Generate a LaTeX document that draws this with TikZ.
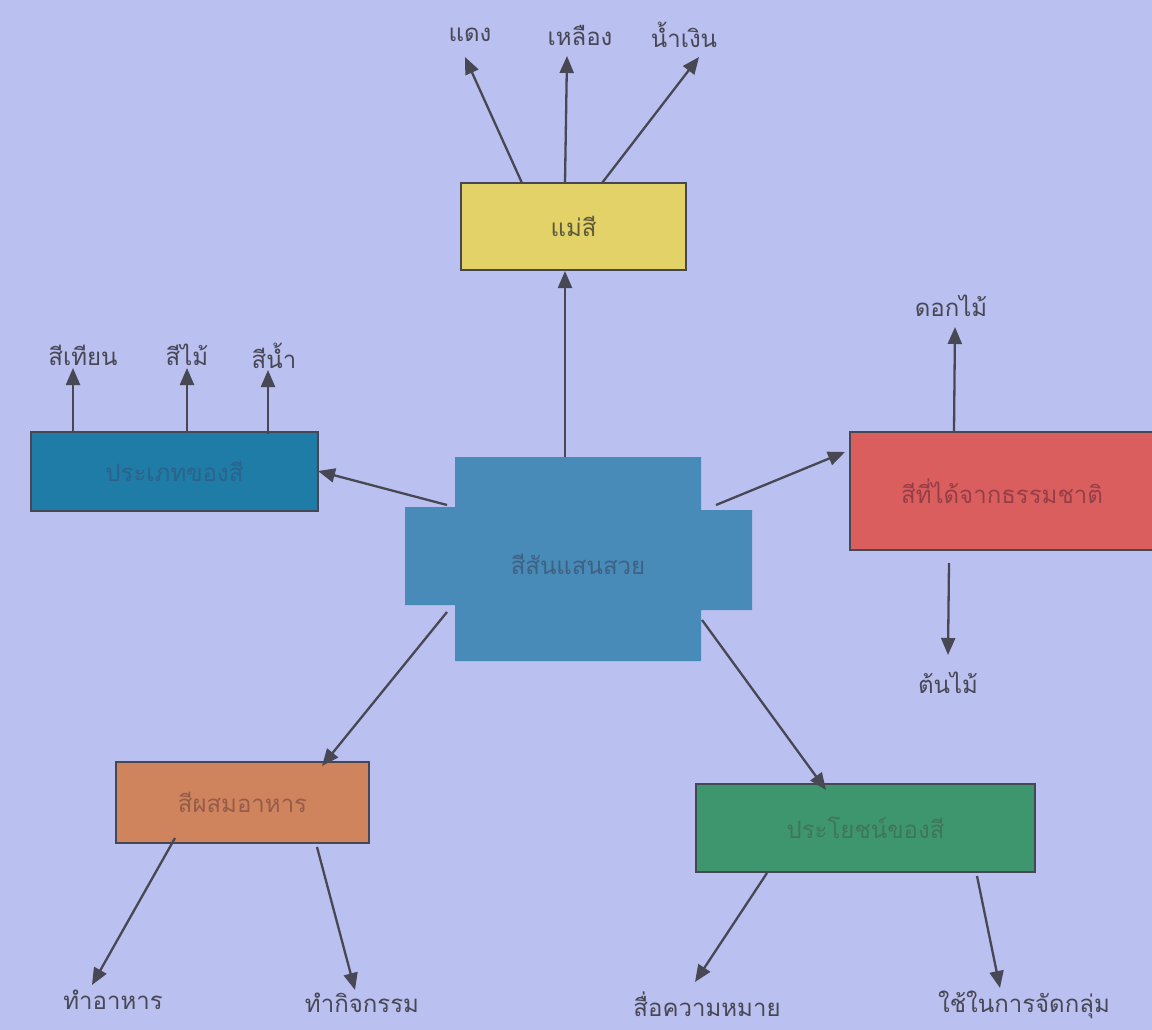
\documentclass[tikz,border=0pt]{standalone}
\usepackage{fontspec}
\newfontfamily\thai[Script=Thai]{Loma}
\usetikzlibrary{arrows.meta}
\definecolor{bg}{RGB}{186,192,240}
\definecolor{ink}{RGB}{72,72,84}
\definecolor{boxline}{RGB}{70,70,85}
\definecolor{yfill}{RGB}{226,210,104}
\definecolor{ytext}{RGB}{95,90,60}
\definecolor{bfill}{RGB}{30,124,166}
\definecolor{btext}{RGB}{45,98,140}
\definecolor{cfill}{RGB}{72,138,184}
\definecolor{ctext}{RGB}{62,98,130}
\definecolor{rfill}{RGB}{218,94,94}
\definecolor{rtext}{RGB}{150,62,72}
\definecolor{ofill}{RGB}{208,132,94}
\definecolor{otext}{RGB}{150,92,74}
\definecolor{gfill}{RGB}{62,150,110}
\definecolor{gtext}{RGB}{62,118,92}
\begin{document}
\begin{tikzpicture}[x=1pt,y=-1pt,
  font=\thai\fontsize{24}{28}\selectfont,
  box/.style={draw=boxline, line width=1.5pt, inner sep=0pt},
  lbl/.style={text=ink, inner sep=0pt},
  arr/.style={draw=ink, line width=2.3pt, -{Triangle[length=17pt,width=14pt]}}]
\fill[bg] (0,0) rectangle (1152,1030);
\useasboundingbox (0,0) rectangle (1152,1030);

% central cross shape
\fill[cfill] (455,457) -- (701,457) -- (701,510) -- (752,510) -- (752,610)
  -- (701,610) -- (701,661) -- (455,661) -- (455,605) -- (405,605)
  -- (405,507) -- (455,507) -- cycle;
\node (c) [inner sep=0pt, minimum width=246pt, minimum height=204pt, text=ctext] at (578,564) {สีสันแสนสวย};

% boxes
\node (y) [box, fill=yfill, text=ytext, minimum width=225pt, minimum height=87pt] at (573.5,226.5) {แม่สี};
\node (b) [box, fill=bfill, text=btext, minimum width=287pt, minimum height=79pt] at (174.5,471.5) {ประเภทของสี};
\node (r) [box, fill=rfill, text=rtext, minimum width=304pt, minimum height=118pt] at (1002,491) {สีที่ได้จากธรรมชาติ};
\node (o) [box, fill=ofill, text=otext, minimum width=253pt, minimum height=81pt] at (242.5,802.5) {สีผสมอาหาร};
\node (g) [box, fill=gfill, text=gtext, minimum width=339pt, minimum height=88pt] at (865.5,828) {ประโยชน์ของสี};

% labels
\node (l1) [lbl] at (470,35) {แดง};
\node (l2) [lbl] at (580,35) {เหลือง};
\node (l3) [lbl] at (684,35) {น้ำเงิน};
\node (l4) [lbl] at (83,355) {สีเทียน};
\node (l5) [lbl] at (187,355) {สีไม้};
\node (l6) [lbl] at (274,356) {สีน้ำ};
\node (l7) [lbl] at (951,306) {ดอกไม้};
\node (l8) [lbl] at (948,683) {ต้นไม้};
\node (l9) [lbl] at (113,1000) {ทำอาหาร};
\node (l10) [lbl] at (362,1003) {ทำกิจกรรม};
\node (l11) [lbl] at (707,1004) {สื่อความหมาย};
\node (l12) [lbl] at (1024,1005) {ใช้ในการจัดกลุ่ม};

% connector coordinates
\coordinate (cT) at (565,457);
\coordinate (cL) at (447,505);
\coordinate (cR) at (716,505);
\coordinate (cBL) at (447,612);
\coordinate (cBR) at (702,620);
\coordinate (yIn) at (565,271);
\coordinate (bIn) at (318,471);
\coordinate (rIn) at (845,452);
\coordinate (oIn) at (322,766);
\coordinate (gIn) at (826,790);

\draw[arr] (cT) -- (yIn);
\draw[arr] (cL) -- (bIn);
\draw[arr] (cR) -- (rIn);
\draw[arr] (cBL) -- (oIn);
\draw[arr] (cBR) -- (gIn);

% yellow children
\coordinate (y1) at (522,183); \coordinate (t1) at (465,57);
\coordinate (y2) at (565,183); \coordinate (t2) at (567,56);
\coordinate (y3) at (602,183); \coordinate (t3) at (699,57);
\draw[arr] (y1) -- (t1);
\draw[arr] (y2) -- (t2);
\draw[arr] (y3) -- (t3);

% blue children
\coordinate (b1) at (73,432); \coordinate (t4) at (73,368);
\coordinate (b2) at (187,433); \coordinate (t5) at (187,368);
\coordinate (b3) at (268,434); \coordinate (t6) at (268,370);
\draw[arr] (b1) -- (t4);
\draw[arr] (b2) -- (t5);
\draw[arr] (b3) -- (t6);

% red children
\coordinate (r1) at (954,431); \coordinate (t7) at (955,327);
\coordinate (r2) at (949,563); \coordinate (t8) at (948,655);
\draw[arr] (r1) -- (t7);
\draw[arr] (r2) -- (t8);

% orange children
\coordinate (o1) at (175,838); \coordinate (t9) at (92,985);
\coordinate (o2) at (317,847); \coordinate (t10) at (355,990);
\draw[arr] (o1) -- (t9);
\draw[arr] (o2) -- (t10);

% green children
\coordinate (g1) at (767,873); \coordinate (t11) at (695,982);
\coordinate (g2) at (977,876); \coordinate (t12) at (1000,988);
\draw[arr] (g1) -- (t11);
\draw[arr] (g2) -- (t12);
\end{tikzpicture}
\end{document}
